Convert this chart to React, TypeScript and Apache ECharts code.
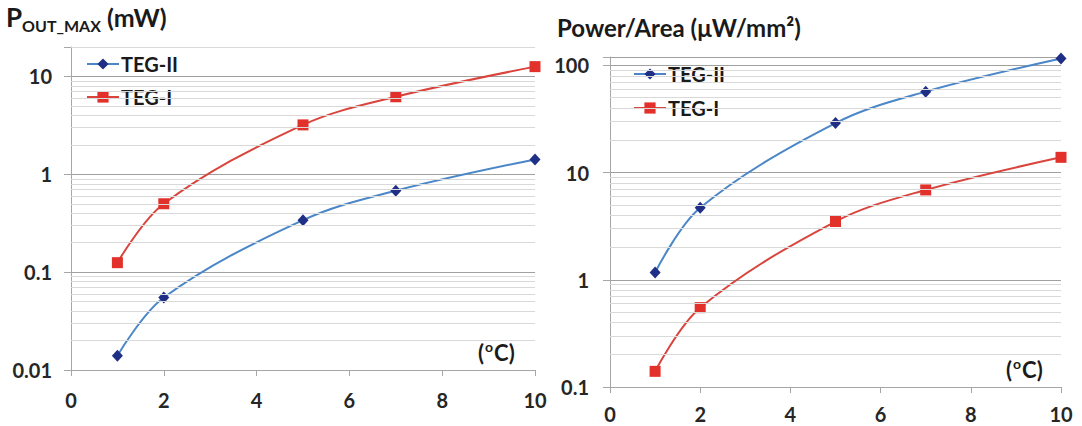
import React, { useEffect, useRef } from "react";
import * as echarts from "echarts";

// ---- data ----
const xValues = [1, 2, 5, 7, 10];
const leftTEG2 = [0.014, 0.055, 0.34, 0.68, 1.42];
const leftTEG1 = [0.125, 0.5, 3.2, 6.2, 12.6];
const rightTEG2 = [1.17, 4.7, 29, 57, 116];
const rightTEG1 = [0.14, 0.55, 3.5, 6.9, 13.9];
const seriesNames = ["TEG-II", "TEG-I"];
const xTicks = [0, 2, 4, 6, 8, 10];

// minor grid lines (2..9 within each decade)
const minorSteps = [2, 3, 4, 5, 6, 7, 8, 9];
const leftDecades = [0.01, 0.1, 1, 10];
const rightDecades = [0.1, 1, 10];
const leftMax = 20;
const rightMax = 120;

const FONT = 'Lato, "Open Sans", sans-serif';
const TXT = "#262626";
const AXIS_GRAY = "#a6a6a6";
const MAJOR_GRID = "#a0a0a0";
const MINOR_GRID = "#d9d9d9";
const BLUE_LINE = "#4a86c8";
const BLUE_MARK = "#1f2f86";
const RED_LINE = "#d9443c";
const RED_MARK = "#e2302a";

const minorValues = (decades: number[], max: number) =>
  decades
    .flatMap((d) => minorSteps.map((s) => Number((d * s).toPrecision(3))))
    .filter((v) => v <= max);

const pairs = (ys: number[]) => xValues.map((x, i) => [x, ys[i]]);

const logLabel = (v: number) => {
  const l = Math.log10(v);
  if (Math.abs(l - Math.round(l)) > 1e-6) return "";
  const p = Math.round(l);
  return p >= 0 ? String(Math.round(Math.pow(10, p))) : Math.pow(10, p).toFixed(-p);
};

function buildOption() {
  const grids = [
    { left: 71, right: 547, top: 47, bottom: 56 },
    { left: 610, right: 21, top: 57, bottom: 39 },
  ];
  const xAxis = [0, 1].map((g) => ({
    type: "value",
    gridIndex: g,
    min: xTicks[0],
    max: xTicks[xTicks.length - 1],
    interval: 2,
    axisLine: { show: true, lineStyle: { color: AXIS_GRAY, width: 1 } },
    axisTick: { show: true, length: 6, lineStyle: { color: AXIS_GRAY } },
    splitLine: { show: false },
    axisLabel: {
      margin: g === 0 ? 20 : 17,
      fontFamily: FONT,
      fontSize: 20,
      lineHeight: 20,
      fontWeight: "bold",
      color: TXT,
    },
  }));
  const yAxis = [
    { min: 0.01, max: leftMax },
    { min: 0.1, max: rightMax },
  ].map((r, g) => ({
    type: "log",
    logBase: 10,
    gridIndex: g,
    min: r.min,
    max: r.max,
    axisLine: { show: true, lineStyle: { color: AXIS_GRAY, width: 1 } },
    axisTick: { show: true, length: 7, lineStyle: { color: AXIS_GRAY } },
    splitLine: {
      show: true,
      showMaxLine: g === 0 ? false : true,
      lineStyle: { color: MAJOR_GRID, width: 1 },
    },
    axisLabel: {
      margin: g === 0 ? 19 : 21,
      fontFamily: FONT,
      fontSize: 20,
      fontWeight: "bold",
      color: TXT,
      formatter: logLabel,
    },
  }));

  const minorMark = (vals: number[]) => ({
    silent: true,
    symbol: "none",
    label: { show: false },
    lineStyle: { color: MINOR_GRID, type: "solid", width: 1 },
    data: vals.map((v) => ({ yAxis: v })),
    animation: false,
  });

  const mk = (
    name: string,
    data: number[],
    g: number,
    isBlue: boolean,
    marks?: number[]
  ) => ({
    type: "line",
    name,
    xAxisIndex: g,
    yAxisIndex: g,
    data: pairs(data),
    smooth: 0.35,
    symbol: isBlue ? "diamond" : "rect",
    symbolSize: isBlue ? [11, 12] : 11,
    lineStyle: { color: isBlue ? BLUE_LINE : RED_LINE, width: 2 },
    itemStyle: { color: isBlue ? BLUE_MARK : RED_MARK },
    z: isBlue ? 3 : 2,
    ...(marks ? { markLine: minorMark(marks) } : {}),
  });

  const legendCommon = {
    orient: "vertical",
    padding: 0,
    itemWidth: 32,
    itemHeight: 14,
    selectedMode: false,
    textStyle: { fontFamily: FONT, fontSize: 20, fontWeight: "bold", color: "#1a1a1a", padding: [0, 0, 0, -3] },
    data: seriesNames,
  };

  return {
    animation: false,
    backgroundColor: "#ffffff",
    grid: grids,
    xAxis,
    yAxis,
    legend: [
      { ...legendCommon, left: 86, top: 54, itemGap: 13 },
      { ...legendCommon, left: 633, top: 64, itemGap: 14 },
    ],
    series: [
      mk(seriesNames[0], leftTEG2, 0, true, minorValues(leftDecades, leftMax)),
      mk(seriesNames[1], leftTEG1, 0, false),
      mk(seriesNames[0], rightTEG2, 1, true, minorValues(rightDecades, rightMax)),
      mk(seriesNames[1], rightTEG1, 1, false),
    ],
    graphic: [
      {
        type: "text",
        left: 6,
        top: 4,
        style: {
          text: "{a|P}{b|OUT_MAX}{c| (mW)}",
          fill: "#1a1a1a",
          rich: {
            a: { fontFamily: FONT, fontSize: 26, fontWeight: "bold", lineHeight: 32, fill: "#1a1a1a" },
            b: { fontFamily: FONT, fontSize: 16, fontWeight: "bold", lineHeight: 16, verticalAlign: "bottom", fill: "#1a1a1a" },
            c: { fontFamily: FONT, fontSize: 25, fontWeight: "bold", lineHeight: 32, fill: "#1a1a1a" },
          },
        },
      },
      {
        type: "text",
        left: 557,
        top: 15,
        style: {
          text: "Power/Area (μW/mm²)",
          fontFamily: FONT,
          fontSize: 24,
          fontWeight: "bold",
          letterSpacing: 1,
          fill: "#1a1a1a",
        },
      },
      ...[
        { left: 478, top: 339 },
        { left: 1006, top: 356 },
      ].map((p) => ({
        type: "text",
        left: p.left,
        top: p.top,
        style: {
          text: "{p|(}{s|o}{p|C)}",
          rich: {
            p: { fontFamily: FONT, fontSize: 22, fontWeight: "bold", lineHeight: 26, fill: "#1a1a1a" },
            s: { fontFamily: FONT, fontSize: 14, fontWeight: "bold", lineHeight: 26, verticalAlign: "top", fill: "#1a1a1a", padding: [0, 1, 8, 1] },
          },
        },
      })),
    ],
  };
}

export default function App() {
  const ref = useRef<HTMLDivElement>(null);
  useEffect(() => {
    if (!ref.current) return;
    const chart = echarts.init(ref.current, undefined, { renderer: "svg" });
    chart.setOption(buildOption() as any);
    return () => chart.dispose();
  }, []);
  return (
    <div
      ref={ref}
      style={{ position: "absolute", left: 0, top: 0, width: 1082, height: 426, background: "#fff" }}
    />
  );
}
